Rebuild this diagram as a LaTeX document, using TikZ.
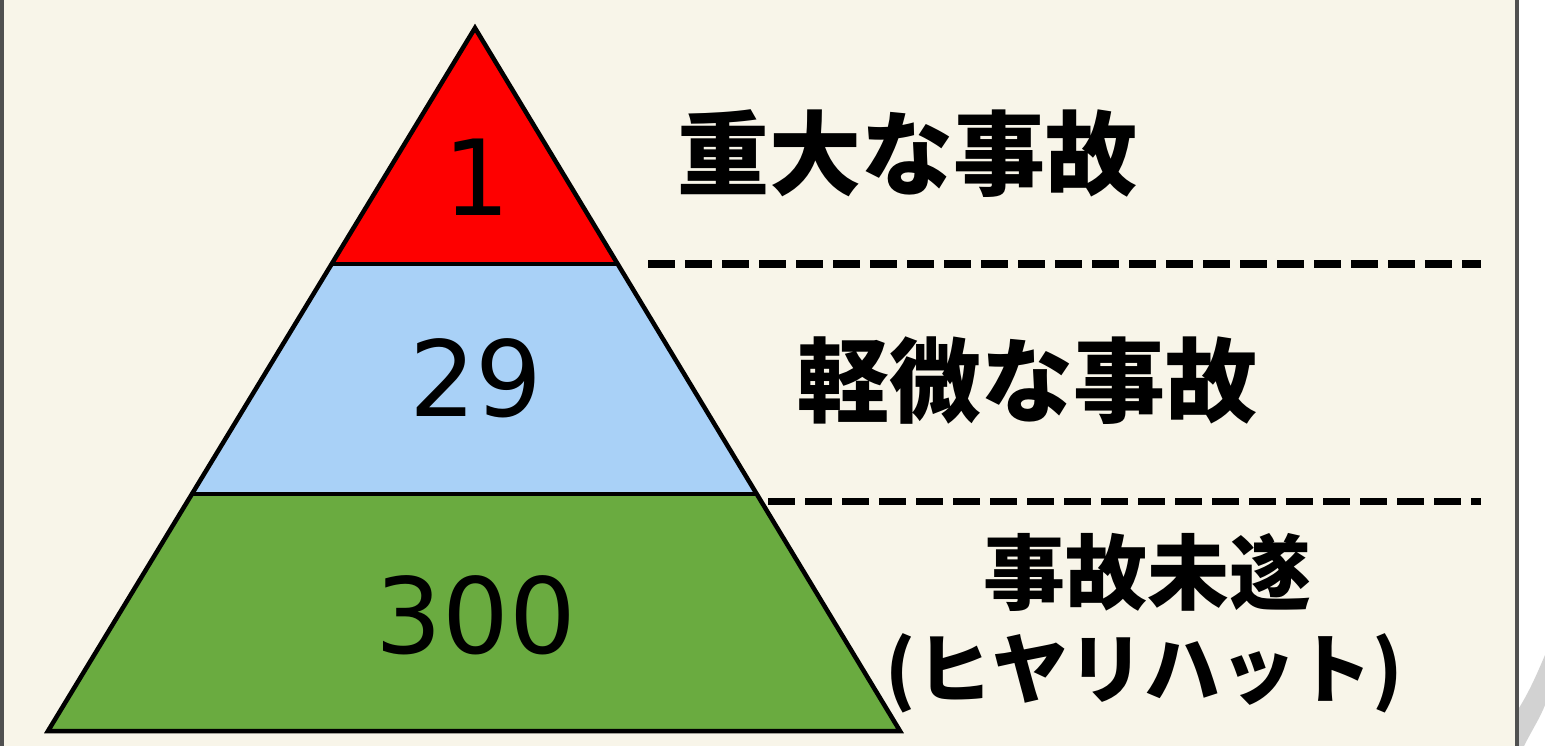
\documentclass[tikz,border=0pt]{standalone}
\usepackage{fontspec}
\setmainfont{DejaVu Sans}
\newfontfamily\cjk{Noto Sans CJK JP}
\definecolor{paper}{HTML}{F8F5E9}
\definecolor{lred}{HTML}{FE0000}
\definecolor{lblue}{HTML}{A9D1F7}
\definecolor{lgreen}{HTML}{6AAB40}
\definecolor{frame}{HTML}{505050}
\definecolor{curl}{HTML}{D2D2D2}
\tikzset{
  layer/.style={draw=black, line width=4.5pt, line join=miter},
  numtext/.style={inner sep=0pt, font=\fontsize{105}{110}\selectfont},
  labtext/.style={inner sep=0pt, font=\cjk\bfseries\fontsize{92}{96}\selectfont},
  labsmall/.style={inner sep=0pt, font=\cjk\bfseries\fontsize{82}{88}\selectfont},
  labkana/.style={inner sep=0pt, font=\cjk\bfseries\fontsize{76}{80}\selectfont},
  divider/.style={draw=black, line width=7pt, dash pattern=on 27pt off 10pt}
}
\begin{document}
\begin{tikzpicture}[x=1pt,y=-1pt]
\useasboundingbox (0,0) rectangle (1545,746);
% paper
\fill[paper] (0,0) rectangle (1545,746);
\fill[white] (1519,0) rectangle (1545,746);
\fill[curl] (1545,655) .. controls (1536,676) and (1530,690) .. (1519,708)
  -- (1519,746) -- (1524,746) .. controls (1532,730) and (1540,718) .. (1545,705) -- cycle;
\fill[frame] (0,0) rectangle (4,746);
\fill[frame] (1515,0) rectangle (1519,746);
% pyramid coordinates
\coordinate (apex) at (475,28);
\coordinate (bl) at (48,731);
\coordinate (br) at (900,731);
\coordinate (l1) at (331.7,264);
\coordinate (r1) at (617.7,264);
\coordinate (l2) at (192,494);
\coordinate (r2) at (756.7,494);
% layers
\fill[lgreen] (l2) -- (r2) -- (br) -- (bl) -- cycle;
\fill[lblue] (l1) -- (r1) -- (r2) -- (l2) -- cycle;
\fill[lred] (apex) -- (r1) -- (l1) -- cycle;
\draw[layer] (l1) -- (r1);
\draw[layer] (l2) -- (r2);
\draw[layer] (apex) -- (br) -- (bl) -- cycle;
% numbers
\node[numtext] (n1) at (477,177) {1};
\node[numtext] (n29) at (476,378) {29};
\node[numtext] (n300) at (476,615) {300};
% dividers
\coordinate (d1s) at (648,264);
\coordinate (d1e) at (1481,264);
\coordinate (d2s) at (768,501);
\coordinate (d2e) at (1481,501);
\draw[divider] (d1s) -- (d1e);
\draw[divider] (d2s) -- (d2e);
% labels
\node[labtext] (t1) at (907,154) {重大な事故};
\node[labtext] (t2) at (1027,381) {軽微な事故};
\node[labsmall] (t3) at (1147,572) {事故未遂};
\node[labkana] (t4) at (1144,673) {(ヒヤリハット)};
\end{tikzpicture}
\end{document}
